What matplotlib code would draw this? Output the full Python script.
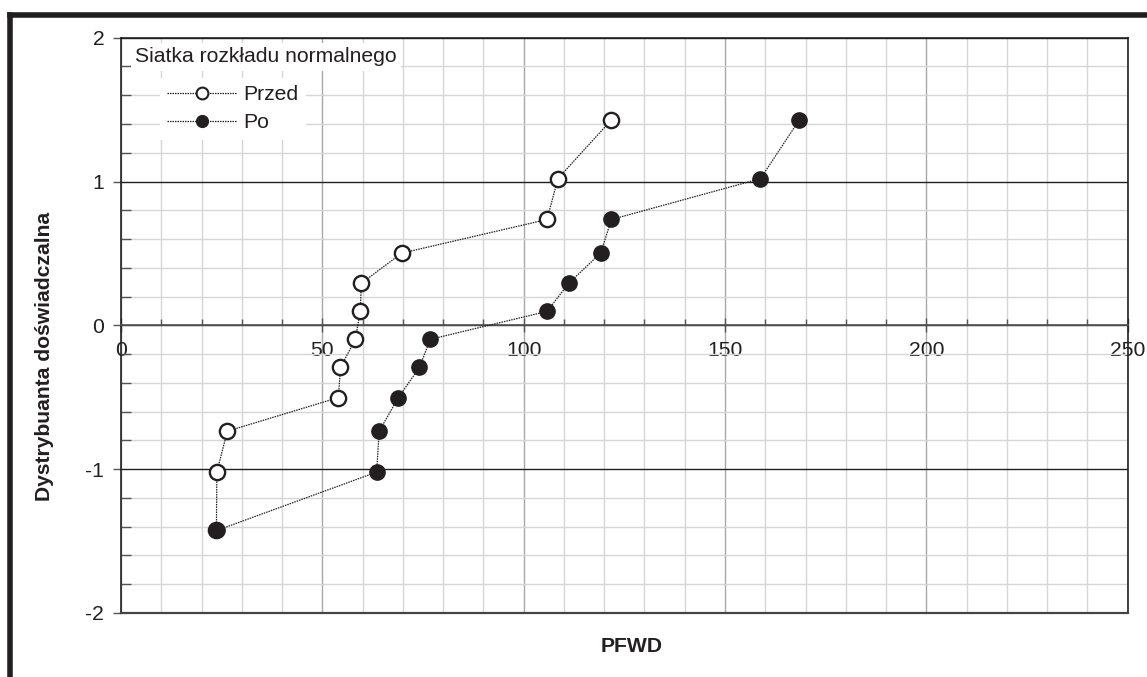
import matplotlib
matplotlib.use("Agg")
import matplotlib.pyplot as plt
from matplotlib.lines import Line2D
from matplotlib.ticker import MultipleLocator

plt.rcParams['font.family'] = ['Liberation Sans', 'DejaVu Sans']

# Data
quantiles = [-1.426, -1.020, -0.736, -0.502, -0.293, -0.097,
             0.097, 0.293, 0.502, 0.736, 1.020, 1.426]
przed = [23.7, 23.8, 26.4, 54.0, 54.5, 58.2, 59.4, 59.7, 69.7, 105.8, 108.5, 121.7]
po = [23.8, 63.5, 64.1, 68.9, 74.1, 76.8, 105.8, 111.2, 119.1, 121.8, 158.8, 168.4]
series_names = ["Przed", "Po"]
legend_title = "Siatka rozkładu normalnego"
x_label = "PFWD"
y_label = "Dystrybuanta doświadczalna"

W, H = 1147, 677
fig = plt.figure(figsize=(W / 100, H / 100), dpi=100)
AXW, AXH = 1127.7 - 121, 613 - 37.7
ax = fig.add_axes([121 / W, 1 - 613 / H, AXW / W, AXH / H])

dark = '#231f20'
fs = 15.2

ax.set_xlim(0, 250)
ax.set_ylim(-2, 2)
ax.xaxis.set_major_locator(MultipleLocator(50))
ax.xaxis.set_minor_locator(MultipleLocator(10))
ax.yaxis.set_major_locator(MultipleLocator(1))
ax.yaxis.set_minor_locator(MultipleLocator(0.2))

# grid
ax.grid(which='minor', axis='both', color='#d6d6d6', lw=1.0, zorder=0)
ax.grid(which='major', axis='x', color='#a8a8a8', lw=1.0, zorder=0)
ax.grid(which='major', axis='y', color=dark, lw=1.0, zorder=0)
ax.set_axisbelow(True)

# spines
for s in ['top', 'right', 'left']:
    ax.spines[s].set_color(dark)
    ax.spines[s].set_linewidth(1.2)
ax.spines['bottom'].set_position(('data', 0))
ax.spines['bottom'].set_color('#555555')
ax.spines['bottom'].set_linewidth(1.2)
ax.axhline(-2, color='#444444', lw=1.6, clip_on=False, zorder=3)

ax.tick_params(axis='x', which='major', direction='inout', length=10, width=1.0,
               color='#555555', labelsize=fs, pad=6, labelcolor=dark)
ax.tick_params(axis='x', which='minor', direction='in', length=4, width=1.0, color='#555555')
ax.tick_params(axis='y', which='major', direction='out', length=6, width=1.0,
               color='#555555', labelsize=fs, pad=6, labelcolor=dark)
ax.tick_params(axis='y', which='minor', direction='in', length=7, width=1.0, color='#555555')
ax.set_yticks([-2, -1, 0, 1, 2])
ax.set_yticklabels(['-2', '-1', '0', '1', '2'])

line_kw = dict(color=dark, lw=0.9, ls=(0, (1.2, 0.8)), marker='o', ms=11, zorder=4)
ax.plot(przed, quantiles, mfc='white', mec=dark, mew=1.7, label=series_names[0], **line_kw)
ax.plot(po, quantiles, mfc=dark, mec=dark, mew=1.0, label=series_names[1], **line_kw)

# legend title
ax.text((135 - 121) / AXW, (613 - 57) / AXH, legend_title,
        transform=ax.transAxes, fontsize=fs, color=dark, ha='left', va='center',
        zorder=6, bbox=dict(facecolor='white', edgecolor='none', pad=3))

h1 = Line2D([], [], color=dark, lw=0.9, ls=(0, (1.2, 0.8)), marker='o', ms=8.5,
            mfc='white', mec=dark, mew=1.5)
h2 = Line2D([], [], color=dark, lw=0.9, ls=(0, (1.2, 0.8)), marker='o', ms=8.5,
            mfc=dark, mec=dark)
leg = ax.legend([h1, h2], series_names, loc='upper left',
                bbox_to_anchor=((160 - 121) / AXW, (613 - 78) / AXH),
                frameon=True, facecolor='white', edgecolor='none', framealpha=1,
                fancybox=False, fontsize=fs, handlelength=3.3, handletextpad=0.3,
                labelspacing=0.42, borderpad=0.35, borderaxespad=0)
for t in leg.get_texts():
    t.set_color(dark)
leg.set_zorder(6)

fig.text(632 / W, 1 - 646 / H, x_label, fontsize=fs, fontweight='bold', color=dark,
         ha='center', va='center')
fig.text(45 / W, 1 - 356 / H, y_label, fontsize=fs, fontweight='bold', color=dark,
         ha='center', va='center', rotation=90)

# outer frame (top and left edges)
fig.add_artist(Line2D([9.5 / W, 1], [1 - 14.5 / H, 1 - 14.5 / H], color=dark, lw=4,
                      transform=fig.transFigure, solid_capstyle='projecting'))
fig.add_artist(Line2D([9.5 / W, 9.5 / W], [1 - 14.5 / H, 0], color=dark, lw=4,
                      transform=fig.transFigure, solid_capstyle='projecting'))

fig.savefig('out.png', dpi=100)
